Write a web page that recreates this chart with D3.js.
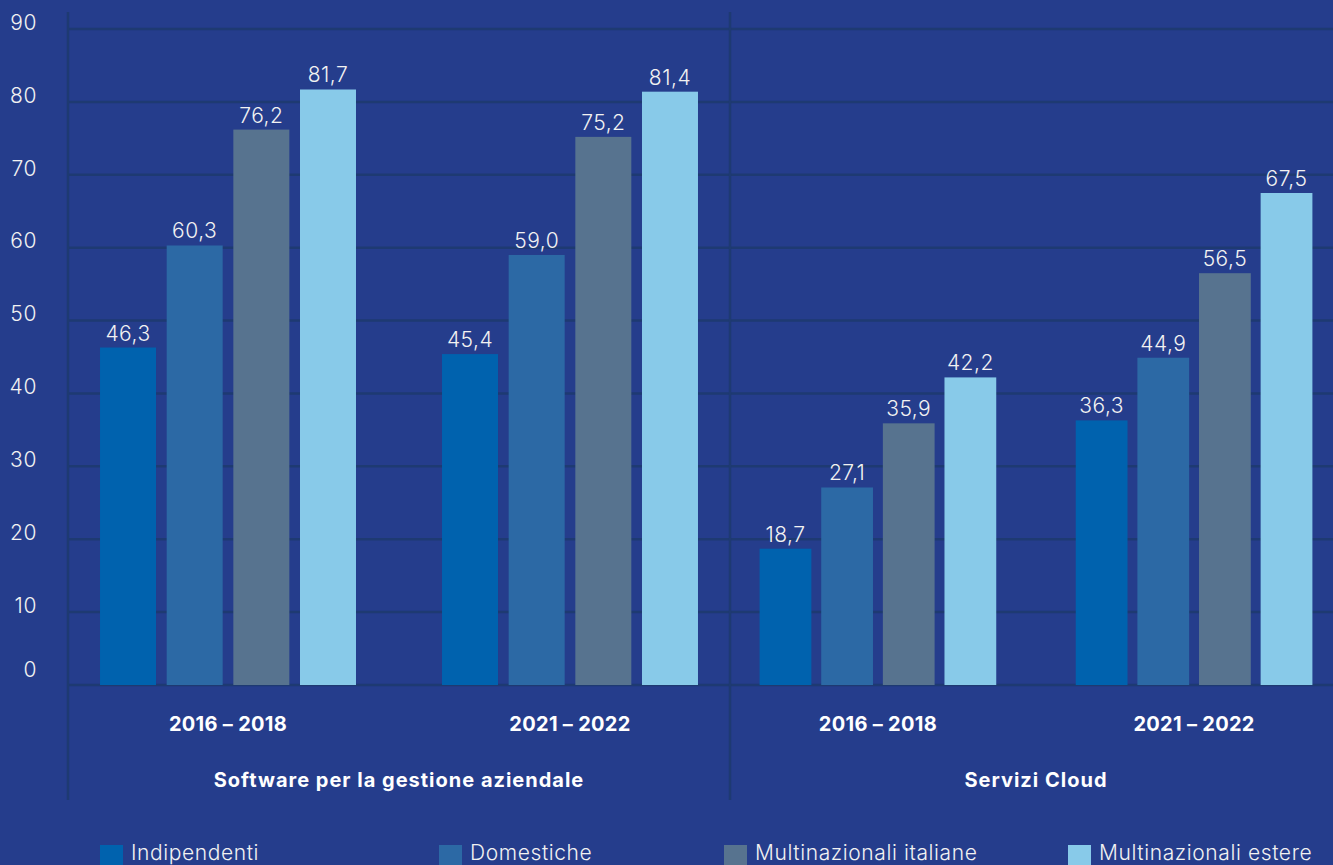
<!DOCTYPE html>
<html><head><meta charset="utf-8">
<script src="https://cdn.jsdelivr.net/npm/d3@7"></script>
<style>
html,body{margin:0;padding:0;background:#253d8c;overflow:hidden;}
svg{display:block;font-family:Inter,"Open Sans",sans-serif;}
</style></head>
<body>
<svg id="chart" width="1333" height="865"></svg>
<script>
// ---- data ----
const panels = ["Software per la gestione aziendale", "Servizi Cloud"];
const periods = ["2016 – 2018", "2021 – 2022"];
const seriesNames = ["Indipendenti", "Domestiche", "Multinazionali italiane", "Multinazionali estere"];
const valIndipendenti = [46.3, 45.4, 18.7, 36.3];
const valDomestiche = [60.3, 59.0, 27.1, 44.9];
const valMultiIt = [76.2, 75.2, 35.9, 56.5];
const valMultiEst = [81.7, 81.4, 42.2, 67.5];
const yTicks = [0, 10, 20, 30, 40, 50, 60, 70, 80, 90];
const colors = ["#0062ae", "#2c69a5", "#57738f", "#88cae9"];

// ---- layout ----
const W = 1333, H = 865;
const panelRanges = [[68, 730], [730, 1342]];
const legendX = [100, 439, 724, 1068];
const seriesVals = [valIndipendenti, valDomestiche, valMultiIt, valMultiEst];

const svg = d3.select("#chart");
svg.append("rect").attr("width", W).attr("height", H).attr("fill", "#253d8c");

const y = d3.scaleLinear().domain([0, 90]).range([685, 29]);
const gridColor = "#1e3a72";

// gridlines
svg.append("g").selectAll("line").data(yTicks).join("line")
  .attr("x1", 68).attr("x2", W)
  .attr("y1", d => y(d)).attr("y2", d => y(d))
  .attr("stroke", gridColor).attr("stroke-width", 2.5);

// y tick labels
svg.append("g").selectAll("text").data(yTicks).join("text")
  .attr("x", 37).attr("y", d => y(d) - (d === 0 ? 14 : 5))
  .attr("text-anchor", "end").attr("dominant-baseline", "middle")
  .attr("fill", "#f2f2f2").attr("font-size", 21).attr("font-weight", 300)
  .attr("letter-spacing", 0.6)
  .text(d => d);

// vertical separators
svg.append("g").selectAll("line").data([panelRanges[0][0], panelRanges[1][0]]).join("line")
  .attr("x1", d => d).attr("x2", d => d).attr("y1", 12).attr("y2", 800)
  .attr("stroke", gridColor).attr("stroke-width", 2.5);

panels.forEach((pname, pi) => {
  const [x0, x1] = panelRanges[pi];
  const gx = d3.scaleBand().domain(periods).range([x0, x1]).paddingInner(0.2515).paddingOuter(0.0936);
  const bx = d3.scaleBand().domain(seriesNames).range([0, gx.bandwidth()]).paddingInner(0.16).paddingOuter(0);
  const g = svg.append("g");
  periods.forEach((per, gi) => {
    const idx = pi * 2 + gi;
    seriesNames.forEach((s, si) => {
      const v = seriesVals[si][idx];
      const bxPos = gx(per) + bx(s);
      g.append("rect")
        .attr("x", bxPos).attr("y", y(v))
        .attr("width", bx.bandwidth()).attr("height", y(0) - y(v))
        .attr("fill", colors[si]);
      g.append("text")
        .attr("x", bxPos + bx.bandwidth() / 2).attr("y", y(v) - 7)
        .attr("text-anchor", "middle").attr("fill", "#f2f2f2")
        .attr("font-size", 21).attr("font-weight", 300).attr("letter-spacing", 0.5)
        .text(d3.format(".1f")(v).replace(".", ","));
    });
    g.append("text")
      .attr("x", gx(per) + gx.bandwidth() / 2).attr("y", 731)
      .attr("text-anchor", "middle").attr("fill", "#ffffff")
      .attr("font-size", 20).attr("font-weight", 700).attr("letter-spacing", 0.3)
      .text(per);
  });
  g.append("text")
    .attr("x", (x0 + x1) / 2).attr("y", 787)
    .attr("text-anchor", "middle").attr("fill", "#ffffff")
    .attr("font-size", 20).attr("font-weight", 700).attr("letter-spacing", 1)
    .text(pname);
});

// legend
const lg = svg.append("g");
seriesNames.forEach((s, i) => {
  lg.append("rect").attr("x", legendX[i]).attr("y", 845).attr("width", 23).attr("height", 23).attr("fill", colors[i]);
  lg.append("text").attr("x", legendX[i] + 31).attr("y", 860)
    .attr("fill", "#f2f2f2").attr("font-size", 21).attr("font-weight", 300)
    .attr("letter-spacing", 0.6).text(s);
});
</script>
</body></html>
